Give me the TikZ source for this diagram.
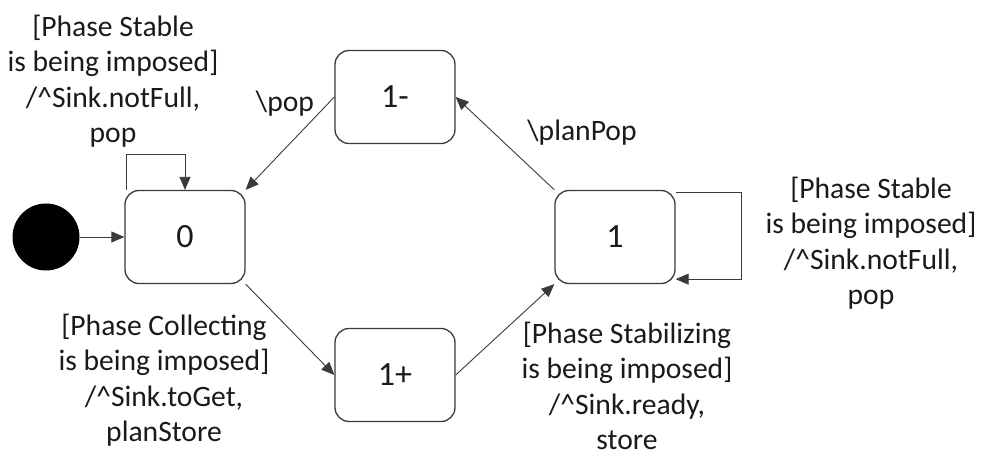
\documentclass[tikz,border=0pt]{standalone}
\usepackage{fontspec}
\setmainfont{Carlito}
\usetikzlibrary{arrows.meta}
\definecolor{edgecol}{HTML}{3A3A3A}
\definecolor{txtcol}{HTML}{1A1A1A}
\tikzset{
  state/.style={draw=edgecol, line width=1.3pt, rounded corners=14pt, minimum width=120pt, minimum height=93pt, inner sep=0pt, font=\fontsize{34}{40}\selectfont, text=txtcol},
  lbl/.style={align=center, inner sep=0pt, font=\fontsize{29.6}{35.5}\selectfont, text=txtcol},
  conn/.style={draw=edgecol, line width=0.9pt, -{Triangle[length=13pt,width=11pt]}}
}
\begin{document}
\begin{tikzpicture}[x=1pt,y=-1pt]
\useasboundingbox (0,0) rectangle (982,457);
\node[circle, fill=black, minimum size=67pt, inner sep=0pt] (init) at (46,237) {};
\node[state] (z) at (185,237) {0};
\node[state] (m) at (395,97) {1-};
\node[state] (p) at (395,375) {1+};
\node[state] (one) at (615,237) {1};

\draw[conn] (init) -- (z);
\draw[conn] (m.west) -- (z.north east);
\draw[conn] (one.north west) -- (m.east);
\draw[conn] (z.south east) -- (p.west);
\draw[conn] (p.east) -- (one.south west);
\draw[conn] ([xshift=2pt]z.north west) -- ++(0,-35) -| (z.north);
\draw[conn] ([yshift=-3pt]one.north east) -- ++(66,0) |- ([yshift=5pt]one.south east);

\node[lbl] (l0) at (113,81) {[Phase Stable\\is being imposed]\\/\textasciicircum Sink.notFull,\\pop};
\node[lbl] (lpop) at (285,104) {\textbackslash pop};
\node[lbl] (lplan) at (582,133) {\textbackslash planPop};
\node[lbl] (l1) at (871,243) {[Phase Stable\\is being imposed]\\/\textasciicircum Sink.notFull,\\pop};
\node[lbl] (lcol) at (164,380) {[Phase Collecting\\is being imposed]\\/\textasciicircum Sink.toGet,\\planStore};
\node[lbl] (lstab) at (627,386) {[Phase Stabilizing\\is being imposed]\\/\textasciicircum Sink.ready,\\store};
\end{tikzpicture}
\end{document}
